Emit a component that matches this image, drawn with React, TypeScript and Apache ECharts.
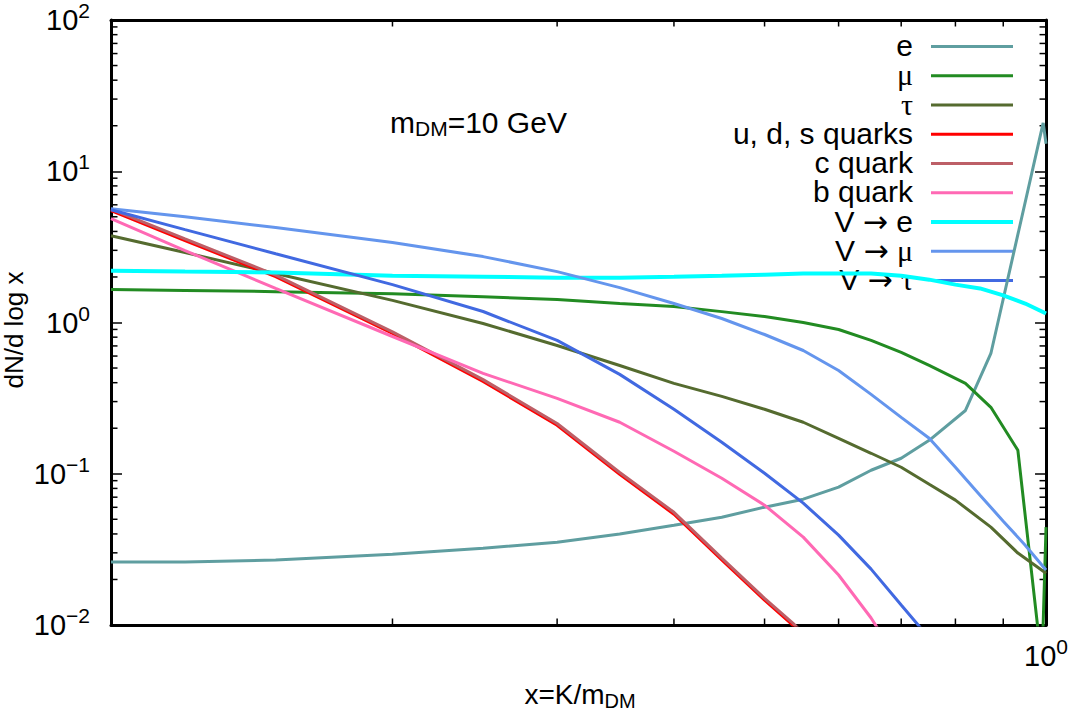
import React, { useEffect, useRef } from 'react';
import * as echarts from 'echarts';

const FONT = '"Liberation Sans", Arial, Helvetica, sans-serif';
const SYMBOL_FONT = '"Liberation Serif", "Times New Roman", serif';
const ARROW_FONT = '"DejaVu Sans", sans-serif';

const X_MIN = 0.1;
const X_MAX = 1;
const Y_MIN = 0.01;
const Y_MAX = 100;

const seriesNames = ['e', 'μ', 'τ', 'u, d, s quarks', 'c quark', 'b quark', 'V → e', 'V → μ', 'V → τ'];
const seriesColors = ['#5f9ea0', '#228b22', '#556b2f', '#ff0000', '#bd5f67', '#ff69b4', '#00ffff', '#6495ed', '#4169e1'];
const seriesWidths = [3, 3, 3, 3, 3, 3, 4, 3, 3];

const gridX = [0.1, 0.12, 0.15, 0.2, 0.25, 0.3, 0.35, 0.4, 0.45, 0.5, 0.55, 0.6, 0.65, 0.7, 0.75, 0.8, 0.85, 0.9, 0.95, 1.0];

const eX = [0.1, 0.12, 0.15, 0.2, 0.25, 0.3, 0.35, 0.4, 0.45, 0.5, 0.55, 0.6, 0.65, 0.7, 0.75, 0.82, 0.873, 0.993, 1.0];
const eY = [0.0261, 0.0261, 0.0269, 0.0294, 0.0322, 0.0353, 0.0399, 0.0457, 0.0516, 0.0601, 0.0679, 0.0815, 0.1055, 0.1266, 0.1664, 0.262, 0.624, 20.9, 15.2];

const muX = [0.1, 0.12, 0.15, 0.2, 0.25, 0.3, 0.35, 0.4, 0.45, 0.5, 0.55, 0.6, 0.65, 0.7, 0.75, 0.82, 0.873, 0.933, 0.99, 1.0];
const muY = [1.65, 1.63, 1.6, 1.55, 1.48, 1.42, 1.335, 1.275, 1.18, 1.095, 1.0, 0.899, 0.761, 0.634, 0.52, 0.396, 0.275, 0.1429, 0.00545, 0.0444];

const tauX = [0.1, 0.12, 0.15, 0.2, 0.25, 0.3, 0.35, 0.4, 0.45, 0.5, 0.55, 0.6, 0.65, 0.7, 0.75, 0.8, 0.873, 0.933, 1.0];
const tauY = [3.75, 2.9, 2.11, 1.4, 0.985, 0.705, 0.52, 0.396, 0.325, 0.267, 0.219, 0.1715, 0.1366, 0.1104, 0.0852, 0.0669, 0.0444, 0.0299, 0.022];

const udsX = [0.1, 0.12, 0.15, 0.2, 0.25, 0.3, 0.35, 0.4, 0.45, 0.5, 0.536, 0.5705];
const udsY = [5.49, 3.48, 2.01, 0.846, 0.408, 0.209, 0.0992, 0.054, 0.0269, 0.0146, 0.01, 0.00684];
const cY = [5.62, 3.57, 2.06, 0.868, 0.419, 0.215, 0.102, 0.0556, 0.0277, 0.015, 0.0103, 0.00705];

const bX = [0.1, 0.12, 0.15, 0.2, 0.25, 0.3, 0.35, 0.4, 0.45, 0.5, 0.55, 0.6, 0.65, 0.678];
const bY = [4.86, 2.99, 1.68, 0.808, 0.461, 0.315, 0.219, 0.1408, 0.0934, 0.062, 0.0381, 0.0214, 0.01112, 0.00738];

const veY = [2.2, 2.17, 2.14, 2.04, 2.01, 1.98, 1.98, 2.01, 2.04, 2.07, 2.11, 2.11, 2.11, 2.04, 1.92, 1.78, 1.68, 1.51, 1.335, 1.147];
const vmuY = [5.655, 5.01, 4.24, 3.375, 2.727, 2.17, 1.7, 1.335, 1.063, 0.833, 0.653, 0.482, 0.335, 0.236, 0.1715, 0.1104, 0.0721, 0.0486, 0.0337, 0.0231];

const vtauX = [0.1, 0.12, 0.15, 0.2, 0.25, 0.3, 0.35, 0.4, 0.45, 0.5, 0.55, 0.6, 0.65, 0.7, 0.75];
const vtauY = [5.57, 4.11, 2.85, 1.781, 1.182, 0.761, 0.454, 0.267, 0.1614, 0.1008, 0.0639, 0.0393, 0.0234, 0.01355, 0.0082];

const seriesXs = [eX, muX, tauX, udsX, udsX, bX, gridX, gridX, vtauX];
const seriesYs = [eY, muY, tauY, udsY, cY, bY, veY, vmuY, vtauY];

const minorXTicks = [0.2, 0.3, 0.4, 0.5, 0.6, 0.7, 0.8, 0.9];
const minorYTicks = [
  0.02, 0.03, 0.04, 0.05, 0.06, 0.07, 0.08, 0.09,
  0.2, 0.3, 0.4, 0.5, 0.6, 0.7, 0.8, 0.9,
  2, 3, 4, 5, 6, 7, 8, 9,
  20, 30, 40, 50, 60, 70, 80, 90,
];

const MAJOR_TICK = 11;
const MINOR_TICK = 6.5;

// legend layout (gnuplot style: text on the left, sample line on the right)
const LEG_TEXT_RIGHT = 913;
const LEG_LINE_X1 = 931;
const LEG_LINE_X2 = 1013;
const LEG_Y0 = 45.5;
const LEG_STEP = 29.25;

function powerLabel(v: number): string {
  const exp = Math.round(Math.log10(v));
  const s = exp < 0 ? '−' + String(-exp) : String(exp);
  return '{b|10}{s|' + s + '}';
}

const labelRich = {
  b: { fontSize: 29, fontFamily: FONT, color: '#000', lineHeight: 40 },
  s: { fontSize: 21, fontFamily: FONT, color: '#000', lineHeight: 21, verticalAlign: 'top' },
};

const legendRich = {
  t: { fontSize: 30, fontFamily: FONT, fill: '#000', lineHeight: 26 },
  a: { fontSize: 30, fontFamily: ARROW_FONT, fill: '#000', lineHeight: 26 },
  g: { fontSize: 30, fontFamily: SYMBOL_FONT, fill: '#000', lineHeight: 26 },
};

function legendLabel(name: string): string {
  const parts = name.split(/([→μτ])/).filter((p) => p.length > 0);
  return parts
    .map((p) => {
      if (p === '→') return '{a|→}';
      if (p === 'μ' || p === 'τ') return '{g|' + p + '}';
      return '{t|' + p + '}';
    })
    .join('');
}

export default function App() {
  const ref = useRef<HTMLDivElement>(null);

  useEffect(() => {
    document.body.style.margin = '0';
    if (!ref.current) return;
    const chart = echarts.init(ref.current, null, { renderer: 'svg' });

    const lineSeries = seriesNames.map((name, i) => ({
      name,
      type: 'line',
      xAxisIndex: 0,
      yAxisIndex: 0,
      data: seriesXs[i].map((x, j) => [x, seriesYs[i][j]]),
      symbol: 'none',
      showSymbol: false,
      smooth: false,
      clip: true,
      color: seriesColors[i],
      lineStyle: { color: seriesColors[i], width: seriesWidths[i] },
      emphasis: { disabled: true },
      silent: true,
    }));

    const tickData = [
      ...minorXTicks.map((v) => [v, Y_MIN, 0]),
      ...minorYTicks.map((v) => [X_MIN, v, 1]),
    ];

    const tickSeries = {
      type: 'custom',
      name: 'minorTicks',
      xAxisIndex: 0,
      yAxisIndex: 0,
      silent: true,
      data: tickData,
      renderItem: (params: any, api: any) => {
        const kind = api.value(2);
        const style = { stroke: '#000', lineWidth: 1.5 };
        if (kind === 0) {
          const x = api.value(0);
          const b = api.coord([x, Y_MIN]);
          const t = api.coord([x, Y_MAX]);
          return {
            type: 'group',
            children: [
              { type: 'line', shape: { x1: b[0], y1: b[1], x2: b[0], y2: b[1] - MINOR_TICK }, style },
              { type: 'line', shape: { x1: t[0], y1: t[1], x2: t[0], y2: t[1] + MINOR_TICK }, style },
            ],
          };
        }
        const y = api.value(1);
        const l = api.coord([X_MIN, y]);
        const r = api.coord([X_MAX, y]);
        return {
          type: 'group',
          children: [
            { type: 'line', shape: { x1: l[0], y1: l[1], x2: l[0] + MINOR_TICK, y2: l[1] }, style },
            { type: 'line', shape: { x1: r[0], y1: r[1], x2: r[0] - MINOR_TICK, y2: r[1] }, style },
          ],
        };
      },
    };

    const axisLine = { show: true, onZero: false, lineStyle: { color: '#000', width: 3 } };
    const axisTick = { show: true, inside: true, length: MAJOR_TICK, lineStyle: { color: '#000', width: 1.5 } };

    const legendGraphics = seriesNames.map((name, i) => {
      const y = LEG_Y0 + i * LEG_STEP;
      return {
        type: 'group',
        silent: true,
        children: [
          {
            type: 'text',
            x: LEG_TEXT_RIGHT,
            y,
            style: {
              text: legendLabel(name),
              rich: legendRich,
              align: 'right',
              verticalAlign: 'middle',
              fontSize: 30,
              fontFamily: FONT,
              fill: '#000',
            },
          },
          {
            type: 'line',
            shape: { x1: LEG_LINE_X1, y1: y + 1, x2: LEG_LINE_X2, y2: y + 1 },
            style: { stroke: seriesColors[i], lineWidth: seriesWidths[i] },
          },
        ],
      };
    });

    const option: any = {
      animation: false,
      backgroundColor: '#ffffff',
      textStyle: { fontFamily: FONT },
      grid: { left: 111, right: 23, top: 19, bottom: 89, containLabel: false },
      xAxis: [
        {
          type: 'log',
          logBase: 10,
          min: X_MIN,
          max: X_MAX,
          position: 'bottom',
          axisLine,
          axisTick,
          splitLine: { show: false },
          axisLabel: {
            show: true,
            margin: 11,
            showMinLabel: true,
            showMaxLabel: true,
            formatter: (v: number) => (Math.abs(v - 1) < 1e-9 ? powerLabel(v) : ''),
            rich: labelRich,
          },
        },
        {
          type: 'log',
          logBase: 10,
          min: X_MIN,
          max: X_MAX,
          position: 'top',
          axisLine,
          axisTick,
          splitLine: { show: false },
          axisLabel: { show: false },
        },
      ],
      yAxis: [
        {
          type: 'log',
          logBase: 10,
          min: Y_MIN,
          max: Y_MAX,
          position: 'left',
          axisLine,
          axisTick,
          splitLine: { show: false },
          axisLabel: {
            show: true,
            margin: 21,
            showMinLabel: true,
            showMaxLabel: true,
            formatter: (v: number) => powerLabel(v),
            rich: labelRich,
          },
        },
        {
          type: 'log',
          logBase: 10,
          min: Y_MIN,
          max: Y_MAX,
          position: 'right',
          axisLine,
          axisTick,
          splitLine: { show: false },
          axisLabel: { show: false },
        },
      ],
      graphic: [
        ...legendGraphics,
        {
          type: 'text',
          x: 390,
          y: 122,
          silent: true,
          style: {
            text: '{m|m}{sub|DM}{m|=10 GeV}',
            align: 'left',
            verticalAlign: 'middle',
            rich: {
              m: { fontSize: 30, fontFamily: FONT, fill: '#000', lineHeight: 34 },
              sub: { fontSize: 21, fontFamily: FONT, fill: '#000', lineHeight: 20, verticalAlign: 'bottom' },
            },
          },
        },
        {
          type: 'text',
          x: 580,
          y: 694,
          silent: true,
          style: {
            text: '{m|x=K/m}{sub|DM}',
            align: 'center',
            verticalAlign: 'middle',
            rich: {
              m: { fontSize: 28, fontFamily: FONT, fill: '#000', lineHeight: 34 },
              sub: { fontSize: 20, fontFamily: FONT, fill: '#000', lineHeight: 20, verticalAlign: 'bottom' },
            },
          },
        },
        {
          type: 'text',
          x: 14,
          y: 330,
          rotation: Math.PI / 2,
          silent: true,
          style: {
            text: 'dN/d log x',
            align: 'center',
            verticalAlign: 'middle',
            fontSize: 26,
            fontFamily: FONT,
            fill: '#000',
          },
        },
      ],
      series: [tickSeries, ...lineSeries],
    };

    chart.setOption(option);
    return () => {
      chart.dispose();
    };
  }, []);

  return (
    <div
      ref={ref}
      style={{ position: 'fixed', left: 0, top: 0, width: '1071px', height: '714px', background: '#fff' }}
    />
  );
}
